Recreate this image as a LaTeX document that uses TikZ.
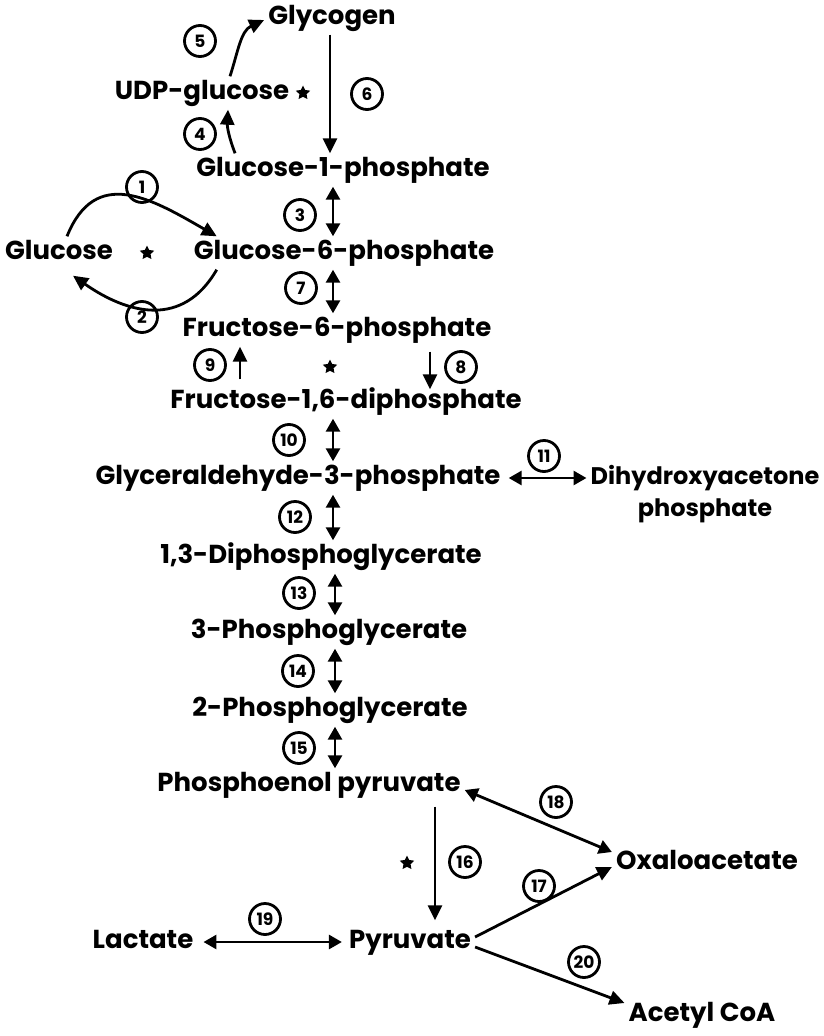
\documentclass[tikz,border=0pt]{standalone}
\usepackage{fontspec}
\setmainfont{Poppins}
\usetikzlibrary{arrows.meta,shapes.geometric}
\begin{document}
\begin{tikzpicture}[x=1pt,y=1pt,
  met/.style={font=\fontsize{26}{28}\selectfont\bfseries, inner xsep=4pt, inner ysep=5.5pt, text height=17pt, text depth=5pt},
  met2/.style={font=\fontsize{24}{32}\selectfont\bfseries, inner xsep=4pt, inner ysep=4pt, align=center},
  num/.style={circle, draw, line width=2.8pt, minimum size=31pt, inner sep=0pt, font=\fontsize{17}{17}\selectfont\bfseries},
  starm/.style={star, star points=5, star point ratio=2, fill, draw=none, minimum size=15pt, inner sep=0pt},
  ar/.style={line width=2.8pt, -{Triangle[length=15pt,width=14pt]}},
  dar/.style={line width=2.8pt, {Triangle[length=13pt,width=14pt]}-{Triangle[length=13pt,width=14pt]}}]
\fill[white] (0,0) rectangle (824,-1036);
\useasboundingbox (0,0) rectangle (824,-1036);
% metabolites
\node[met] (gly) at (332,-18) {Glycogen};
\node[met] (udp) at (202,-93) {UDP-glucose};
\node[met] (g1p) at (343,-170) {Glucose-1-phosphate};
\node[met] (glc) at (59,-253) {Glucose};
\node[met] (g6p) at (344,-253) {Glucose-6-phosphate};
\node[met] (f6p) at (337,-330) {Fructose-6-phosphate};
\node[met] (fdp) at (346,-402) {Fructose-1,6-diphosphate};
\node[met] (g3p) at (298,-478) {Glyceraldehyde-3-phosphate};
\node[met2] (dhap) at (705,-494) {Dihydroxyacetone\\phosphate};
\node[met] (dpg) at (321,-557) {1,3-Diphosphoglycerate};
\node[met] (pg3) at (329,-632) {3-Phosphoglycerate};
\node[met] (pg2) at (330,-710) {2-Phosphoglycerate};
\node[met] (pep) at (309,-785) {Phosphoenol pyruvate};
\node[met] (oaa) at (707,-863) {Oxaloacetate};
\node[met] (lac) at (143,-942) {Lactate};
\node[met] (pyr) at (410,-942) {Pyruvate};
\node[met] (acoa) at (702,-1015) {Acetyl CoA};
% enzyme numbers
\node[num] (n1) at (142,-187) {1};
\node[num] (n2) at (142,-317) {2};
\node[num] (n3) at (300,-215) {3};
\node[num] (n4) at (200,-134) {4};
\node[num] (n5) at (200,-41) {5};
\node[num] (n6) at (367,-94) {6};
\node[num] (n7) at (301,-288) {7};
\node[num] (n8) at (461,-367) {8};
\node[num] (n9) at (210,-365) {9};
\node[num] (n10) at (289,-440) {10};
\node[num] (n11) at (544,-456) {11};
\node[num] (n12) at (295,-517) {12};
\node[num] (n13) at (299,-593) {13};
\node[num] (n14) at (298,-671) {14};
\node[num] (n15) at (299,-748) {15};
\node[num] (n16) at (465,-862) {16};
\node[num] (n17) at (539,-886) {17};
\node[num] (n18) at (556,-802) {18};
\node[num] (n19) at (265,-919) {19};
\node[num] (n20) at (584,-962) {20};
% regulated steps
\node[starm] (s1) at (303,-93) {};
\node[starm] (s2) at (147,-253) {};
\node[starm] (s3) at (330,-367) {};
\node[starm] (s4) at (407,-863) {};
% axes
\coordinate (axg) at (330,0);
\coordinate (ax) at (333,0);
\coordinate (axb) at (335,0);
\coordinate (c9x) at (240,0);
\coordinate (c8x) at (430,0);
\coordinate (apx) at (435,0);
% connectors
\draw[ar] (gly.south -| axg) -- (g1p.north -| axg);
\draw[ar] ([xshift=28pt]udp.north) to[out=72,in=205] ([yshift=-2pt]gly.west);
\draw[ar] ([xshift=43pt]g1p.north west) to[bend left=12] ([xshift=26pt]udp.south);
\draw[ar] ([xshift=8pt]glc.north) to[out=68,in=150,looseness=1.3] ([xshift=27pt]g6p.north west);
\draw[ar] ([xshift=27pt]g6p.south west) to[out=-120,in=-35,looseness=1.2] ([xshift=14pt,yshift=-6pt]glc.south);
\draw[dar] (g1p.south -| ax) -- (g6p.north -| ax);
\draw[dar] (g6p.south -| ax) -- (f6p.north -| ax);
\draw[ar, shorten <=6pt] (fdp.north -| c9x) -- (f6p.south -| c9x);
\draw[ar, shorten <=5pt, shorten >=-4pt] (f6p.south -| c8x) -- (fdp.north -| c8x);
\draw[dar] (fdp.south -| ax) -- (g3p.north -| ax);
\draw[dar, shorten <=4pt] (g3p.east) -- (g3p.east -| dhap.west);
\draw[dar] (g3p.south -| ax) -- (dpg.north -| ax);
\draw[dar] (dpg.south -| axb) -- (pg3.north -| axb);
\draw[dar] (pg3.south -| axb) -- (pg2.north -| axb);
\draw[dar] (pg2.south -| axb) -- (pep.north -| axb);
\draw[ar, shorten <=5pt, shorten >=5pt] (pep.south -| apx) -- (pyr.north -| apx);
\draw[dar] ([yshift=-5pt]pep.east) -- ([yshift=11pt]oaa.west);
\draw[ar] ([yshift=5pt]pyr.east) -- ([yshift=-4pt]oaa.west);
\draw[ar] ([yshift=-5pt]pyr.east) -- ([yshift=12pt]acoa.west);
\draw[dar, shorten <=6pt, shorten >=3pt] (lac.east) -- (pyr.west);
\end{tikzpicture}
\end{document}
